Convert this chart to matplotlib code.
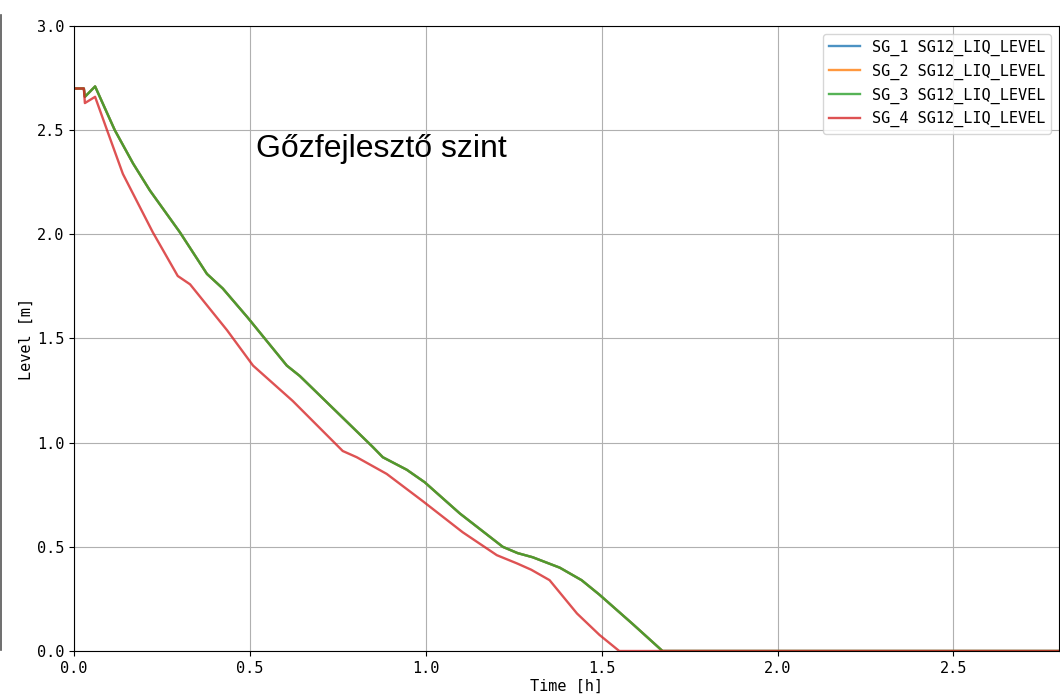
import matplotlib.pyplot as plt
from matplotlib.lines import Line2D

# steam generator level traces (SG_1..SG_3 run on top of each other)
t_sg123 = [0.0, 0.028, 0.031, 0.060, 0.116, 0.168, 0.216, 0.301, 0.378, 0.423,
           0.494, 0.605, 0.642, 0.849, 0.878, 0.946, 0.997, 1.097, 1.219, 1.261,
           1.304, 1.381, 1.443, 1.494, 1.588, 1.673, 2.8]
lvl_sg123 = [2.70, 2.70, 2.66, 2.71, 2.50, 2.34, 2.21, 2.01, 1.81, 1.74,
             1.60, 1.37, 1.32, 0.98, 0.93, 0.87, 0.81, 0.66, 0.50, 0.47,
             0.45, 0.40, 0.34, 0.27, 0.13, 0.0, 0.0]

t_sg4 = [0.0, 0.028, 0.031, 0.060, 0.094, 0.139, 0.224, 0.295, 0.330, 0.435,
         0.509, 0.622, 0.764, 0.804, 0.889, 0.991, 1.105, 1.202, 1.26, 1.30,
         1.352, 1.43, 1.494, 1.55, 2.8]
lvl_sg4 = [2.70, 2.70, 2.63, 2.66, 2.50, 2.29, 2.01, 1.80, 1.76, 1.54,
           1.37, 1.20, 0.96, 0.93, 0.85, 0.72, 0.57, 0.46, 0.42, 0.39,
           0.34, 0.18, 0.077, 0.0, 0.0]

labels = ["SG_1 SG12_LIQ_LEVEL", "SG_2 SG12_LIQ_LEVEL",
          "SG_3 SG12_LIQ_LEVEL", "SG_4 SG12_LIQ_LEVEL"]
series = [(t_sg123, lvl_sg123), (t_sg123, lvl_sg123),
          (t_sg123, lvl_sg123), (t_sg4, lvl_sg4)]

plt.rcParams["font.family"] = "DejaVu Sans Mono"
plt.rcParams["font.size"] = 11

fig = plt.figure(figsize=(10.6, 6.95), dpi=100)
ax = fig.add_axes([0.0698, 0.0633, 0.9292, 0.8993])

for (t, lvl), lab in zip(series, labels):
    ax.plot(t, lvl, lw=1.7, alpha=0.8, label=lab)

ax.set_xlim(0, 2.8)
ax.set_ylim(0, 3.0)
ax.set_xticks([0.0, 0.5, 1.0, 1.5, 2.0, 2.5])
ax.set_yticks([0.0, 0.5, 1.0, 1.5, 2.0, 2.5, 3.0])
ax.grid(True, color="#b0b0b0", lw=0.8)
ax.set_xlabel("Time [h]", labelpad=2)
ax.set_ylabel("Level [m]", labelpad=2)
ax.legend(loc="upper right")

ax.text(0.517, 2.37, "Gőzfejlesztő szint", family="Liberation Sans", fontsize=23,
        ha="left", va="baseline")

# stray border at the left edge
fig.add_artist(Line2D([0.0008, 0.0008], [45 / 695, 680 / 695], color="#555555", lw=1.2))

fig.savefig("out.png", dpi=100)
